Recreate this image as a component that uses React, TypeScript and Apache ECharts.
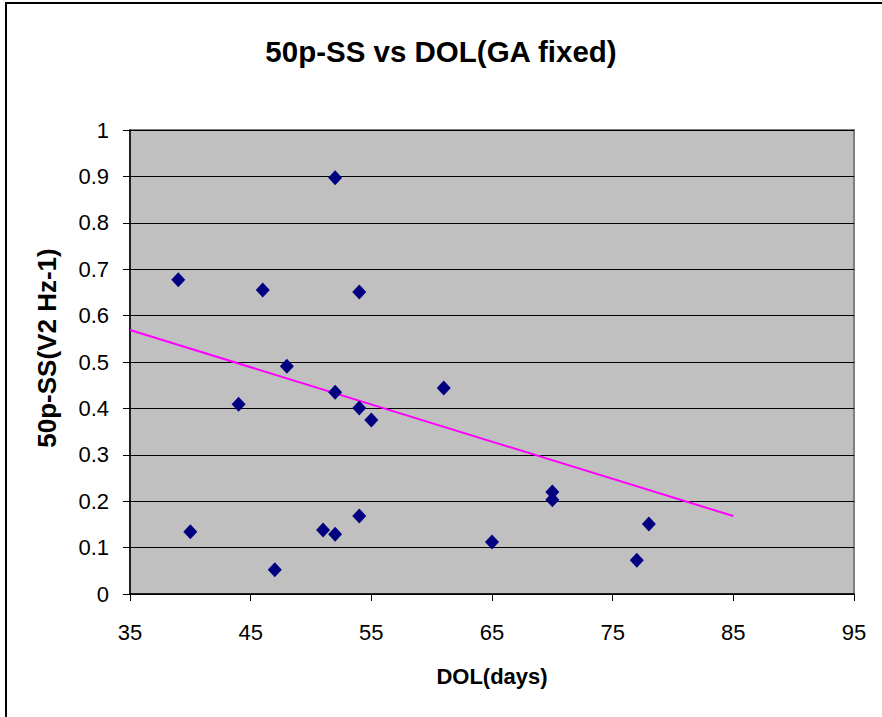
import React, { useEffect, useRef } from "react";
import * as echarts from "echarts";

const dolDays = [39, 40, 44, 46, 47, 48, 51, 52, 52, 52, 54, 54, 54, 55, 61, 65, 70, 70, 77, 78];
const ssValues = [0.677, 0.134, 0.409, 0.655, 0.052, 0.491, 0.138, 0.897, 0.435, 0.129, 0.651, 0.401, 0.168, 0.375, 0.444, 0.112, 0.22, 0.203, 0.073, 0.151];
const trendX = [35, 85];
const trendY = [0.569, 0.168];

const FONT = "Liberation Sans, Arial, sans-serif";

export default function App() {
  const ref = useRef<HTMLDivElement>(null);
  useEffect(() => {
    if (!ref.current) return;
    const chart = echarts.init(ref.current, null, { renderer: "svg" });
    chart.setOption({
      animation: false,
      backgroundColor: "#ffffff",
      title: {
        text: "50p-SS vs DOL(GA fixed)",
        left: "center",
        top: 31,
        textStyle: { fontFamily: FONT, fontSize: 29.5, fontWeight: "bold", color: "#000" },
      },
      graphic: [
        {
          type: "rect",
          shape: { x: 6, y: 3, width: 1000, height: 1000 },
          style: { fill: "none", stroke: "#000", lineWidth: 2 },
          silent: true,
        },
      ],
      grid: {
        left: 130,
        top: 130,
        right: 28,
        bottom: 123,
        show: true,
        backgroundColor: "#C0C0C0",
        borderColor: "#808080",
        borderWidth: 2,
      },
      xAxis: {
        type: "value",
        min: 35,
        max: 95,
        interval: 10,
        name: "DOL(days)",
        nameLocation: "middle",
        nameGap: 71,
        nameTextStyle: { fontFamily: FONT, fontSize: 22, fontWeight: "bold", color: "#000" },
        axisLine: { show: true, onZero: false, lineStyle: { color: "#000", width: 1.5 } },
        axisTick: { show: true, length: 7, lineStyle: { color: "#000" } },
        axisLabel: { fontFamily: FONT, fontSize: 22, color: "#000", margin: 27 },
        splitLine: { show: false },
      },
      yAxis: {
        type: "value",
        min: 0,
        max: 1,
        interval: 0.1,
        name: "50p-SS(V2 Hz-1)",
        nameLocation: "middle",
        nameGap: 70,
        nameRotate: 90,
        nameTextStyle: {
          fontFamily: FONT,
          fontSize: 26,
          fontWeight: "bold",
          color: "#000",
          padding: [0, 0, 0, 28],
        },
        axisLine: { show: true, lineStyle: { color: "#000", width: 1.5 } },
        axisTick: { show: true, length: 7, lineStyle: { color: "#000" } },
        axisLabel: { fontFamily: FONT, fontSize: 22, color: "#000", margin: 21 },
        splitLine: { show: true, lineStyle: { color: "#000", width: 1 } },
      },
      series: [
        {
          type: "line",
          data: trendX.map((x, i) => [x, trendY[i]]),
          symbol: "none",
          lineStyle: { color: "#FF00FF", width: 2 },
          z: 2,
        },
        {
          type: "scatter",
          data: dolDays.map((x, i) => [x, ssValues[i]]),
          symbol: "diamond",
          symbolSize: [14, 15],
          itemStyle: { color: "#000080", opacity: 1 },
          z: 3,
        },
      ],
    });
    return () => chart.dispose();
  }, []);
  return (
    <div
      ref={ref}
      style={{ position: "fixed", left: 0, top: 0, width: 882, height: 717 }}
    />
  );
}
